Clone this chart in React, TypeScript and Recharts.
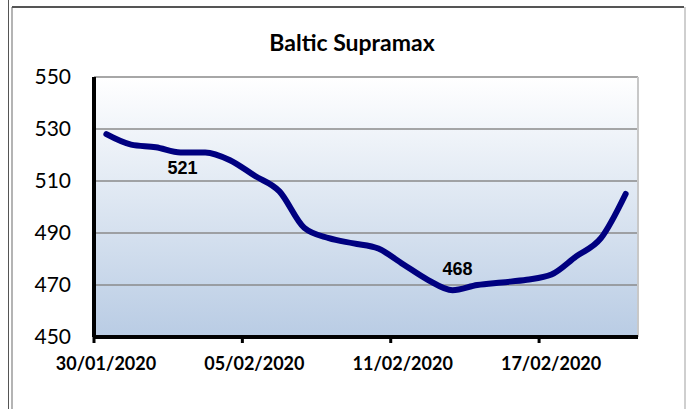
import { LineChart, Line, XAxis, YAxis, CartesianGrid, ReferenceLine } from 'recharts';

// Baltic Supramax index, daily 30/01/2020 - 20/02/2020
const dates = [
  '30/01/2020', '31/01/2020', '01/02/2020', '02/02/2020', '03/02/2020', '04/02/2020',
  '05/02/2020', '06/02/2020', '07/02/2020', '08/02/2020', '09/02/2020', '10/02/2020',
  '11/02/2020', '12/02/2020', '13/02/2020', '14/02/2020', '15/02/2020', '16/02/2020',
  '17/02/2020', '18/02/2020', '19/02/2020', '20/02/2020',
];
const values = [
  528, 524, 523, 521, 521, 518, 512, 506, 492, 488, 486,
  484, 478, 472, 468, 470, 471, 472, 474, 481, 488, 505,
];
const yTicks = [450, 470, 490, 510, 530, 550];
const xTicks = [0, 6, 12, 18];
// points carrying a data label, and where the label sits
const labelDates = ['02/02/2020', '13/02/2020'];
const labelSides = ['below', 'above'];

const data = dates.map((date, i) => ({ pos: i + 0.5, date, value: values[i] }));

const renderLabel = (props: any) => {
  const { x, y, index, value } = props;
  const k = labelDates.indexOf(dates[index]);
  if (k < 0) return <g key={index} />;
  const below = labelSides[k] === 'below';
  return (
    <text
      key={index}
      x={x + (below ? 2 : 5)}
      y={below ? y + 16 : y - 21}
      textAnchor="middle"
      dominantBaseline="central"
      fontFamily="'Liberation Sans', Arial, sans-serif"
      fontWeight="bold"
      fontSize={18}
      fill="#000"
    >
      {value}
    </text>
  );
};

export default function App() {
  return (
    <div style={{ position: 'absolute', left: 0, top: 0, width: 687, height: 409, background: '#fff', overflow: 'hidden' }}>
      {/* frame lines */}
      <div style={{ position: 'absolute', left: 8, top: 0, width: 1, height: 409, background: '#555' }} />
      <div style={{ position: 'absolute', left: 11, top: 7, width: 2, height: 402, background: '#b4b4b4' }} />
      <div style={{ position: 'absolute', left: 12, top: 6, width: 672, height: 2, background: '#555' }} />
      <div style={{ position: 'absolute', left: 684, top: 7, width: 2, height: 402, background: '#cfcfcf' }} />

      <div
        style={{
          position: 'absolute',
          left: 0,
          width: 704,
          top: 27,
          textAlign: 'center',
          fontFamily: 'Lato, sans-serif',
          fontWeight: 'bold',
          fontSize: 23,
          lineHeight: '30px',
          color: '#000',
        }}
      >
        Baltic Supramax
      </div>

      <div style={{ position: 'absolute', left: 0, top: 0 }}>
        <LineChart width={687} height={409} data={data} margin={{ top: 77, right: 49, bottom: 32, left: 0 }}>
          <defs>
            <linearGradient id="plotBg" x1="0" y1="0" x2="0" y2="1">
              <stop offset="0%" stopColor="#ffffff" />
              <stop offset="100%" stopColor="#b9cce4" />
            </linearGradient>
          </defs>
          <CartesianGrid vertical={false} stroke="#8a8a8a" strokeWidth={1.5} fill="url(#plotBg)" fillOpacity={1} />
          <ReferenceLine x={22} stroke="#c8c8c8" strokeWidth={2} />
          <XAxis
            type="number"
            dataKey="pos"
            domain={[0, 22]}
            ticks={xTicks}
            tickFormatter={(t: number) => dates[t]}
            height={40}
            axisLine={{ stroke: '#000', strokeWidth: 4 }}
            tickLine={{ stroke: '#000', strokeWidth: 3 }}
            tickSize={6}
            tickMargin={14}
            tick={{ fill: '#000', fontFamily: 'Lato, sans-serif', fontWeight: 'bold', fontSize: 18, dx: 12 }}
          />
          <YAxis
            domain={[450, 550]}
            ticks={yTicks}
            width={94}
            axisLine={{ stroke: '#000', strokeWidth: 4 }}
            tickLine={false}
            tickSize={0}
            tickMargin={23}
            tick={{ fill: '#000', fontFamily: 'Lato, sans-serif', fontSize: 21 }}
          />
          <Line
            type="monotone"
            dataKey="value"
            stroke="#000080"
            strokeWidth={6}
            strokeLinecap="round"
            dot={false}
            label={renderLabel}
            isAnimationActive={false}
          />
        </LineChart>
      </div>
    </div>
  );
}
